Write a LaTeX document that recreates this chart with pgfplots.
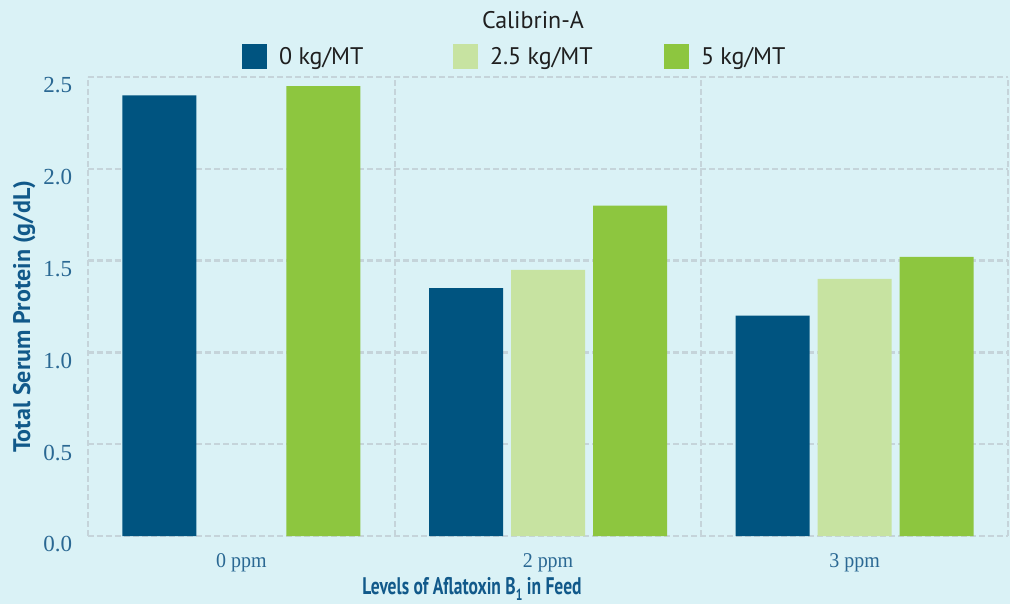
\documentclass[border=0pt]{standalone}
\usepackage{fontspec}
\usepackage{pgfplots}
\pgfplotsset{compat=1.18}
\setmainfont{Liberation Serif}
\newfontfamily\legfont{PT Sans}
\newfontfamily\labfont{PT Sans}
\newfontfamily\xlabfont[FakeStretch=0.73]{PT Sans}
\newfontfamily\xtickfont[FakeStretch=0.95]{Liberation Serif}

\definecolor{bgc}{HTML}{DAF2F6}
\definecolor{gridc}{HTML}{C5D4DA}
\definecolor{c0}{HTML}{005480}
\definecolor{c25}{HTML}{C7E3A1}
\definecolor{c5}{HTML}{8DC63F}
\definecolor{tickc}{HTML}{2A6893}
\definecolor{labc}{HTML}{11598A}

\pgfplotsset{sq legend/.style={legend image code/.code={%
  \fill[##1] (0pt,-6.25pt) rectangle (12.5pt,6.25pt);}}}

\begin{document}
\begin{tikzpicture}
\fill[bgc] (-44pt,-34pt) rectangle (461pt,268pt);
\path[use as bounding box] (-44pt,-34pt) rectangle (461pt,268pt);
\begin{axis}[
  width=460pt, height=229.5pt, scale only axis,
  xmin=0, xmax=3, ymin=0, ymax=2.5,
  ybar=4pt, bar width=37pt,
  axis line style={draw=none},
  xtick={0.5,1.5,2.5},
  xticklabels={0 ppm,2 ppm,3 ppm},
  minor xtick={0,1,2,3},
  ytick={0,0.5,1,1.5,2,2.5},
  major tick length=0pt, minor tick length=0pt,
  xmajorgrids=false, xminorgrids=true, ymajorgrids=true,
  grid style={gridc, line width=1.15pt, dash pattern=on 2.8pt off 1.7pt},
  minor grid style={gridc, line width=1.15pt, dash pattern=on 2.8pt off 1.7pt},
  /pgf/number format/assume math mode=true,
  yticklabel style={/pgf/number format/fixed, /pgf/number format/fixed zerofill,
    /pgf/number format/precision=1,
    font=\fontsize{11.5}{13}\selectfont, text=tickc, inner sep=0pt,
    anchor=base east, xshift=-7.7pt, yshift=-8pt},
  xticklabel style={font=\xtickfont\fontsize{10.5}{12}\selectfont, text=tickc,
    inner sep=0pt, anchor=base, yshift=-16pt},
  ylabel={Total Serum Protein (g/dL)},
  ylabel style={font=\labfont\bfseries\fontsize{12}{14}\selectfont, text=labc,
    at={(axis description cs:-0.063,0.478)}, anchor=base, inner sep=0pt},
  xlabel={Levels of Aflatoxin B\raisebox{-3pt}{\fontsize{8}{8}\selectfont 1} in Feed},
  xlabel style={font=\xlabfont\bfseries\fontsize{12}{14}\selectfont, text=labc,
    at={(axis description cs:0.4174,-0.1264)}, anchor=base, inner sep=0pt},
  legend style={at={(axis description cs:0.1674,1.0436)}, anchor=west,
    draw=none, fill=none, inner sep=0pt, outer sep=0pt,
    font=\legfont\fontsize{12}{14}\selectfont, text=black!88,
    nodes={inner sep=0pt},
    /tikz/every odd column/.append style={column sep=6pt}},
  legend columns=3,
]
\addplot[fill=c0, draw=none, sq legend] coordinates {(0.5,2.40) (1.5,1.35) (2.5,1.20)};
\addlegendentry{\makebox[87pt][l]{0 kg/MT}}
\addplot[fill=c25, draw=none, sq legend] coordinates {(1.5,1.45) (2.5,1.40)};
\addlegendentry{\makebox[87pt][l]{2.5 kg/MT}}
\addplot[fill=c5, draw=none, sq legend] coordinates {(0.5,2.45) (1.5,1.80) (2.5,1.52)};
\addlegendentry{5 kg/MT}
\end{axis}
\node[font=\legfont\fontsize{12}{14}\selectfont, text=black!88] at (222.5pt,258pt) {Calibrin-A};
\end{tikzpicture}
\end{document}
